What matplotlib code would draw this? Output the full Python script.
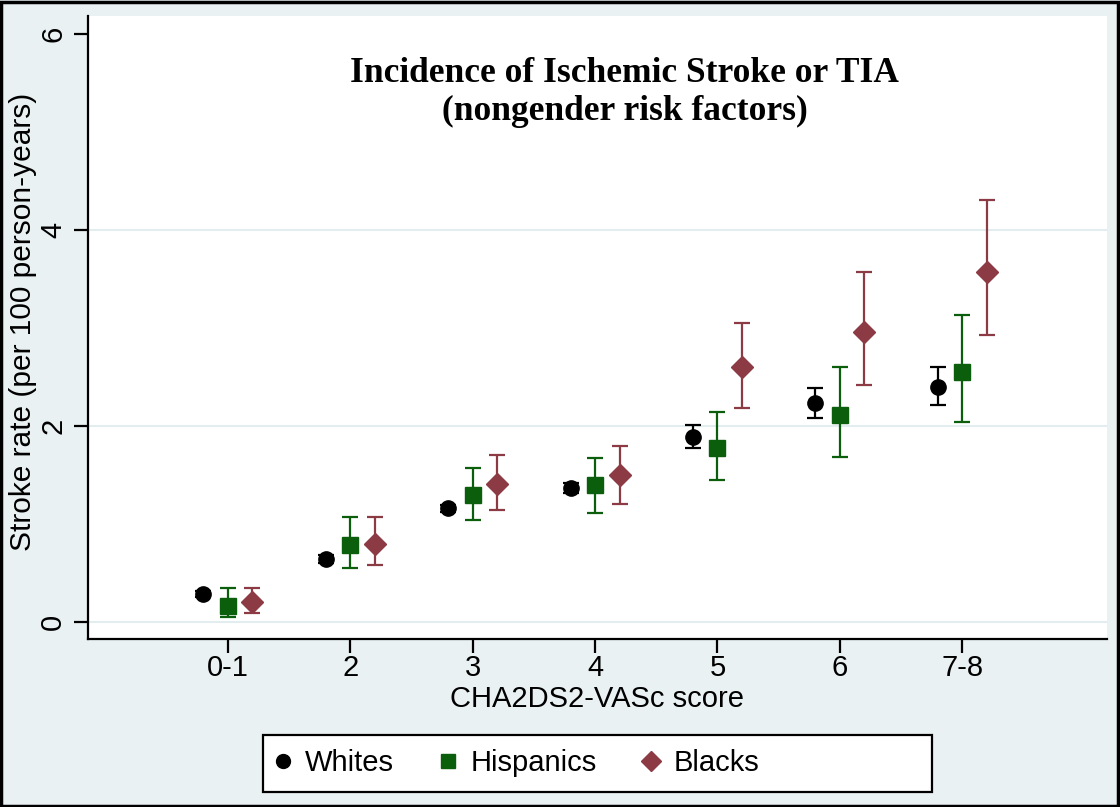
import numpy as np
import matplotlib.pyplot as plt
from matplotlib.lines import Line2D

# CHA2DS2-VASc score groups
scores = ['0-1', '2', '3', '4', '5', '6', '7-8']

# stroke rate per 100 person-years, with 95% CI
whites = [0.29, 0.64, 1.16, 1.37, 1.89, 2.23, 2.40]
whites_lo = [0.26, 0.60, 1.12, 1.32, 1.78, 2.08, 2.21]
whites_hi = [0.32, 0.68, 1.20, 1.42, 2.01, 2.39, 2.60]

hisp = [0.16, 0.79, 1.30, 1.40, 1.78, 2.11, 2.55]
hisp_lo = [0.05, 0.55, 1.04, 1.11, 1.45, 1.68, 2.04]
hisp_hi = [0.35, 1.07, 1.57, 1.67, 2.14, 2.60, 3.13]

blacks = [0.21, 0.80, 1.41, 1.50, 2.60, 2.96, 3.57]
blacks_lo = [0.09, 0.58, 1.14, 1.21, 2.18, 2.42, 2.93]
blacks_hi = [0.35, 1.07, 1.70, 1.80, 3.05, 3.57, 4.31]

BG = '#eaf1f3'
GREEN = '#0b5e0b'
MAROON = '#8c3a44'
FONT = 'Liberation Sans'

plt.rcParams['font.family'] = FONT

fig = plt.figure(figsize=(11.2, 8.07), dpi=100, facecolor=BG)
ax = fig.add_axes([0.0786, 0.208, 0.9094, 0.772])
ax.set_facecolor('white')

x = np.arange(1, len(scores) + 1)

def draw(xpos, y, lo, hi, color, marker, ms):
    y = np.array(y)
    err = [y - np.array(lo), np.array(hi) - y]
    ax.errorbar(xpos, y, yerr=err, fmt=marker, color=color, ms=ms,
                ecolor=color, elinewidth=1.6, capsize=5.5, capthick=1.6,
                zorder=3)

draw(x - 0.2, whites, whites_lo, whites_hi, 'black', 'o', 11)
draw(x, hisp, hisp_lo, hisp_hi, GREEN, 's', 12)
draw(x + 0.2, blacks, blacks_lo, blacks_hi, MAROON, 'D', 11)

ax.set_xlim(-0.143, 8.18)
ax.set_ylim(-0.173, 6.18)
ax.set_xticks(x)
ax.set_xticklabels(scores)
ax.set_yticks([0, 2, 4, 6])
for g in [0, 2, 4]:
    ax.axhline(g, color='#e3ecee', lw=1.5, zorder=1)

for s in ['top', 'right']:
    ax.spines[s].set_visible(False)
for s in ['left', 'bottom']:
    ax.spines[s].set_linewidth(1.6)
ax.tick_params(axis='x', length=10, width=1.6, direction='out', pad=1,
               labelsize=21)
ax.tick_params(axis='y', length=10, width=1.6, direction='out', pad=5,
               labelsize=21, labelrotation=90)
for lab in ax.get_yticklabels():
    lab.set_va('center')

ax.set_xlabel('CHA2DS2-VASc score', fontsize=21)
ax.xaxis.set_label_coords(0.50, -0.074)
ax.set_ylabel('Stroke rate (per 100 person-years)', fontsize=21.5)
ax.yaxis.set_label_coords(-0.050, 0.51)

ax.text(0.527, 0.935, 'Incidence of Ischemic Stroke or TIA\n(nongender risk factors)',
        transform=ax.transAxes, ha='center', va='top', fontsize=25.5,
        fontweight='bold', family='Liberation Serif', linespacing=1.2)

handles = [
    Line2D([], [], ls='none', marker='o', color='black', ms=10),
    Line2D([], [], ls='none', marker='s', color=GREEN, ms=10.5),
    Line2D([], [], ls='none', marker='D', color=MAROON, ms=10),
]
leg = fig.legend(handles, ['Whites', 'Hispanics', 'Blacks'], ncol=3,
                 loc='center left', bbox_to_anchor=(268 / 1120, 0.054),
                 prop={'family': FONT, 'size': 21}, frameon=False,
                 handletextpad=0.26, columnspacing=1.37, borderpad=0,
                 borderaxespad=0, handlelength=1.0)

# legend box, wider than its entries as in the original
fig.patches.append(plt.Rectangle((263 / 1120, 1 - 792 / 807), 669 / 1120, 57 / 807,
                                 transform=fig.transFigure, facecolor='white',
                                 edgecolor='black', lw=1.6, zorder=0))

# outer border around the whole graph
fig.patches.append(plt.Rectangle((0.001, 0.001), 0.997, 0.997,
                                 transform=fig.transFigure, fill=False,
                                 edgecolor='black', lw=2.5))

fig.savefig('out.png', dpi=100, facecolor=BG)
